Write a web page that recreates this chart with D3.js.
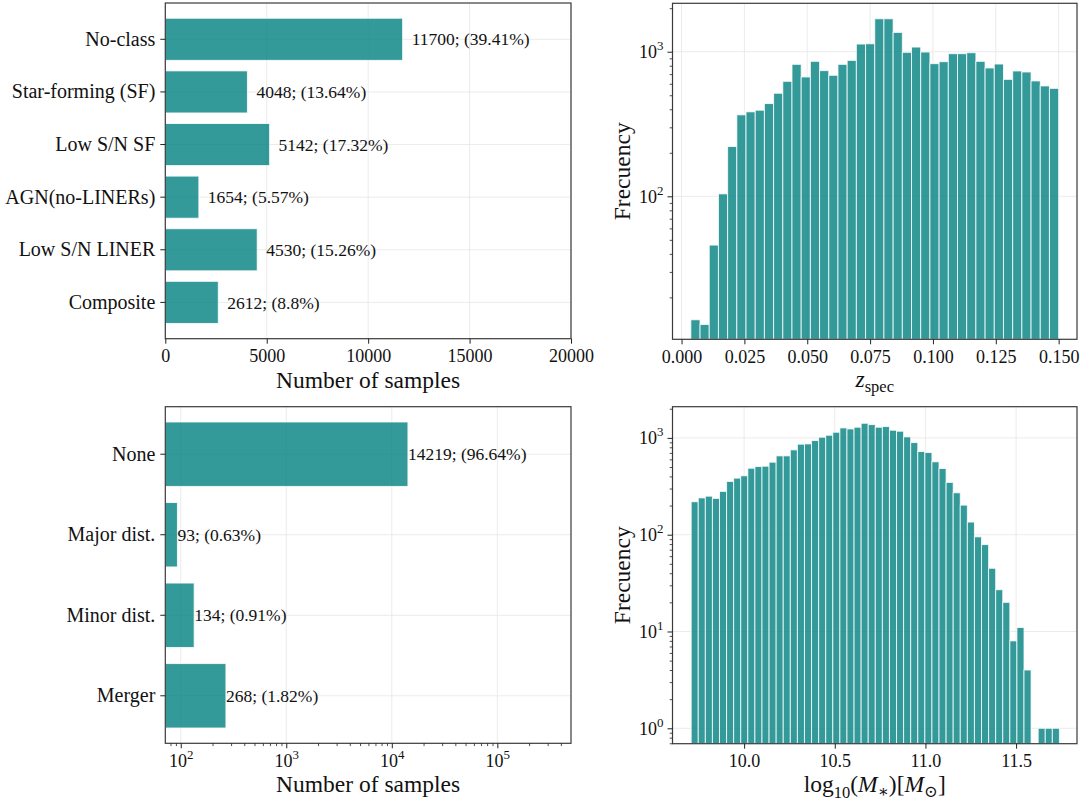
<!DOCTYPE html>
<html>
<head>
<meta charset="utf-8">
<script src="https://cdn.jsdelivr.net/npm/d3@7"></script>
<style>
  body { margin: 0; background: #fff; }
  svg { display: block; font-family: "Liberation Serif", "DejaVu Serif", serif; }
</style>
</head>
<body>
<svg id="chart" width="1082" height="805"></svg>
<script>
// ---- data ----
const classNames = ["No-class", "Star-forming (SF)", "Low S/N SF", "AGN(no-LINERs)", "Low S/N LINER", "Composite"];
const classCounts = [11700, 4048, 5142, 1654, 4530, 2612];
const classPercents = [39.41, 13.64, 17.32, 5.57, 15.26, 8.8];
const classTicks = [0, 5000, 10000, 15000, 20000];

const mergerNames = ["None", "Major dist.", "Minor dist.", "Merger"];
const mergerCounts = [14219, 93, 134, 268];
const mergerPercents = [96.64, 0.63, 0.91, 1.82];
const mergerTicks = [1e2, 1e3, 1e4, 1e5];

// redshift histogram: 40 bins between these edges
const zBinRange = [0.0037, 0.15];
const zCounts = [14, 13, 46, 104, 221, 366, 384, 394, 438, 516,
  624, 818, 669, 858, 740, 687, 818, 871, 1130, 1135,
  1690, 1690, 1360, 990, 1077, 995, 827, 853, 969, 969,
  984, 858, 772, 822, 644, 736, 724, 628, 580, 558];
const zTicks = [0, 0.025, 0.05, 0.075, 0.1, 0.125, 0.15];
const zFreqTicks = [1e2, 1e3];

// stellar mass histogram: 52 bins between these edges
const massBinRange = [9.708, 11.739];
const massCounts = [219, 240, 250, 237, 280, 355, 384, 406, 486, 506,
  510, 561, 652, 652, 752, 861, 867, 939, 1016, 1065,
  1144, 1268, 1238, 1289, 1416, 1372, 1289, 1309, 1200, 1172,
  1024, 895, 723, 706, 566, 483, 347, 271, 202, 135,
  95, 79, 45, 27, 20, 8, 11, 4, 0, 1, 1, 1];
const massTicks = [10.0, 10.5, 11.0, 11.5];
const massFreqTicks = [1e0, 1e1, 1e2, 1e3];

const svg = d3.select("#chart");
const gridColor = "#e6e6e6";
const spineColor = "#3a3a3a";
const tickFont = 18;

function styleBars(sel) {
  return sel
    .attr("fill", "#008080")
    .attr("fill-opacity", 0.8)
    .attr("stroke", "#fff")
    .attr("stroke-opacity", 0.8)
    .attr("stroke-width", 1);
}

// turn "1000" into 10^3 with a raised exponent
function powerLabel(text) {
  text.each(function(d) {
    const t = d3.select(this).text(null);
    t.append("tspan").text("10");
    t.append("tspan").attr("font-size", "0.72em").attr("dy", "-0.6em").text(Math.round(Math.log10(d)));
  });
}

function styleAxis(g) {
  g.select(".domain").remove();
  g.attr("font-family", null).attr("font-size", tickFont);
  g.selectAll(".tick line").attr("stroke", "#222").attr("stroke-width", 1);
  g.selectAll(".tick text").attr("fill", "#111");
}

function minorAxis(g, axis, scale, major) {
  const minor = scale.ticks().filter(v => !major.some(m => Math.abs(m - v) < 1e-9 * m));
  g.call(axis.tickValues(minor).tickSize(2.8).tickFormat(""));
  g.select(".domain").remove();
  g.selectAll(".tick line").attr("stroke", "#222").attr("stroke-width", 0.8);
}

function frame(g, layout) {
  g.append("rect")
    .attr("width", layout.width)
    .attr("height", layout.height)
    .attr("fill", "none")
    .attr("stroke", spineColor)
    .attr("stroke-width", 1.2);
}

/**
 * Horizontal bar chart of sample counts per category
 */
function createCategoryPanel(container, layout, opts) {
  const g = container.append("g")
    .attr("transform", `translate(${layout.left},${layout.top})`);
  const x = opts.x.range([0, layout.width]);
  const y = d3.scaleBand()
    .domain(opts.names)
    .range([0, layout.height])
    .paddingInner(0.2)
    .paddingOuter(opts.outer);

  // grid
  g.append("g").selectAll("line")
    .data(opts.ticks)
    .join("line")
    .attr("x1", d => x(d)).attr("x2", d => x(d))
    .attr("y1", 0).attr("y2", layout.height)
    .attr("stroke", gridColor).attr("stroke-width", 0.8);
  g.append("g").selectAll("line")
    .data(opts.names)
    .join("line")
    .attr("x1", 0).attr("x2", layout.width)
    .attr("y1", d => y(d) + y.bandwidth() / 2)
    .attr("y2", d => y(d) + y.bandwidth() / 2)
    .attr("stroke", gridColor).attr("stroke-width", 0.8);

  // bars
  g.append("g").selectAll("rect")
    .data(opts.counts)
    .join("rect")
    .attr("x", 0)
    .attr("y", (d, i) => y(opts.names[i]))
    .attr("width", d => x(d))
    .attr("height", y.bandwidth())
    .call(styleBars);

  // count labels
  g.append("g").selectAll("text")
    .data(opts.counts)
    .join("text")
    .attr("x", d => x(d) + opts.labelPad)
    .attr("y", (d, i) => y(opts.names[i]) + y.bandwidth() / 2)
    .attr("dy", "0.35em")
    .attr("font-size", 17.5)
    .attr("fill", "#111")
    .text((d, i) => `${d}; (${opts.percents[i]}%)`);

  frame(g, layout);

  const yAxis = g.append("g")
    .call(d3.axisLeft(y).tickSize(5).tickPadding(5))
    .call(styleAxis);
  yAxis.attr("font-size", 20);

  const xAxisG = g.append("g").attr("transform", `translate(0,${layout.height})`);
  if (opts.log) {
    xAxisG.append("g").call(minorAxis, d3.axisBottom(x), x, opts.ticks);
  }
  const xAxis = xAxisG.append("g")
    .call(d3.axisBottom(x).tickValues(opts.ticks).tickSize(5).tickPadding(6).tickFormat(d3.format("d")))
    .call(styleAxis);
  if (opts.log) xAxis.selectAll(".tick text").call(powerLabel);

  g.append("text")
    .attr("x", layout.width / 2)
    .attr("y", layout.height + 49)
    .attr("text-anchor", "middle")
    .attr("font-size", 23.5)
    .attr("fill", "#111")
    .text("Number of samples");
}

/**
 * Histogram with a logarithmic frequency axis
 */
function createHistogramPanel(container, layout, opts) {
  const g = container.append("g")
    .attr("transform", `translate(${layout.left},${layout.top})`);
  const x = d3.scaleLinear().domain(opts.xDomain).range([0, layout.width]);
  const y = d3.scaleLog().domain(opts.yDomain).range([layout.height, 0]);
  const n = opts.counts.length;
  const step = (opts.binRange[1] - opts.binRange[0]) / n;
  const bins = opts.counts.map((c, i) => ({
    x0: opts.binRange[0] + i * step,
    x1: opts.binRange[0] + (i + 1) * step,
    count: c
  }));

  // grid
  g.append("g").selectAll("line")
    .data(opts.xTicks)
    .join("line")
    .attr("x1", d => x(d)).attr("x2", d => x(d))
    .attr("y1", 0).attr("y2", layout.height)
    .attr("stroke", gridColor).attr("stroke-width", 0.8);
  g.append("g").selectAll("line")
    .data(opts.yTicks)
    .join("line")
    .attr("x1", 0).attr("x2", layout.width)
    .attr("y1", d => y(d)).attr("y2", d => y(d))
    .attr("stroke", gridColor).attr("stroke-width", 0.8);

  // bars
  g.append("g").selectAll("rect")
    .data(bins.filter(b => b.count > 0))
    .join("rect")
    .attr("x", d => x(d.x0))
    .attr("width", d => x(d.x1) - x(d.x0))
    .attr("y", d => y(d.count))
    .attr("height", d => layout.height - y(d.count))
    .call(styleBars);

  frame(g, layout);

  const yAxisG = g.append("g");
  yAxisG.append("g").call(minorAxis, d3.axisLeft(y), y, opts.yTicks);
  yAxisG.append("g")
    .call(d3.axisLeft(y).tickValues(opts.yTicks).tickSize(5).tickPadding(4))
    .call(styleAxis)
    .selectAll(".tick text").call(powerLabel);

  g.append("g")
    .attr("transform", `translate(0,${layout.height})`)
    .call(d3.axisBottom(x).tickValues(opts.xTicks).tickSize(5).tickPadding(6).tickFormat(d3.format(opts.xFormat)))
    .call(styleAxis);

  g.append("text")
    .attr("transform", `translate(-43,${layout.height / 2}) rotate(-90)`)
    .attr("text-anchor", "middle")
    .attr("font-size", 23.5)
    .attr("fill", "#111")
    .text("Frecuency");

  const title = g.append("text")
    .attr("x", layout.width / 2)
    .attr("y", layout.height + 48)
    .attr("text-anchor", "middle")
    .attr("font-size", 23.5)
    .attr("fill", "#111");
  opts.title(title);
}

createCategoryPanel(svg, { left: 165.3, top: 3, width: 405.7, height: 335.7 }, {
  names: classNames,
  counts: classCounts,
  percents: classPercents,
  ticks: classTicks,
  x: d3.scaleLinear().domain([0, 20000]),
  outer: 0.29,
  labelPad: 9,
  log: false
});

createCategoryPanel(svg, { left: 165.3, top: 406.7, width: 405.7, height: 336.6 }, {
  names: mergerNames,
  counts: mergerCounts,
  percents: mergerPercents,
  ticks: mergerTicks,
  x: d3.scaleLog().domain([71.4, 499000]),
  outer: 0.19,
  labelPad: 0,
  log: true
});

createHistogramPanel(svg, { left: 672.5, top: 3.3, width: 404.5, height: 336 }, {
  counts: zCounts,
  binRange: zBinRange,
  xDomain: [-0.0036, 0.1573],
  yDomain: [10.26, 2162],
  xTicks: zTicks,
  yTicks: zFreqTicks,
  xFormat: ".3f",
  title: t => {
    t.append("tspan").attr("font-style", "italic").text("z");
    t.append("tspan").attr("font-size", "0.7em").attr("dy", 5).text("spec");
  }
});

createHistogramPanel(svg, { left: 672.5, top: 406.7, width: 404.5, height: 337 }, {
  counts: massCounts,
  binRange: massBinRange,
  xDomain: [9.605, 11.836],
  yDomain: [0.693, 2100],
  xTicks: massTicks,
  yTicks: massFreqTicks,
  xFormat: ".1f",
  title: t => {
    t.append("tspan").text("log");
    t.append("tspan").attr("font-size", "0.7em").attr("dy", 6).text("10");
    t.append("tspan").attr("dy", -6).text("(");
    t.append("tspan").attr("font-style", "italic").text("M");
    t.append("tspan").attr("font-size", "0.7em").attr("dy", 5).text("∗");
    t.append("tspan").attr("dy", -5).text(")[");
    t.append("tspan").attr("font-style", "italic").text("M");
    t.append("tspan").attr("font-size", "0.7em").attr("dy", 5).text("⊙");
    t.append("tspan").attr("dy", -5).text("]");
  }
});
</script>
</body>
</html>
